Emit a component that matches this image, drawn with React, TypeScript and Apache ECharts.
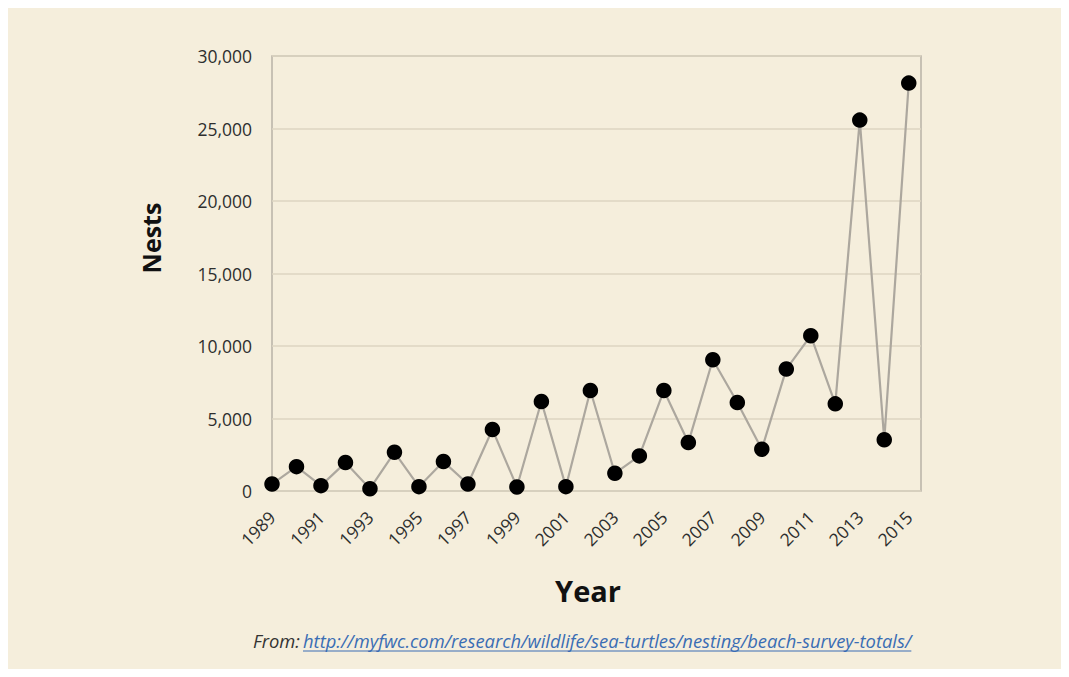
import React, { useEffect, useRef } from "react";
import * as echarts from "echarts";

const years = [1989, 1990, 1991, 1992, 1993, 1994, 1995, 1996, 1997, 1998, 1999, 2000, 2001, 2002, 2003, 2004, 2005, 2006, 2007, 2008, 2009, 2010, 2011, 2012, 2013, 2014, 2015];
const nests = [480, 1680, 370, 1960, 160, 2670, 300, 2030, 480, 4240, 280, 6170, 300, 6930, 1220, 2420, 6930, 3340, 9050, 6100, 2880, 8410, 10710, 6010, 25580, 3530, 28130];
const yTicks = [0, 5000, 10000, 15000, 20000, 25000, 30000];
const xAxisTitle = "Year";
const yAxisTitle = "Nests";
const sourcePrefix = "From:";
const sourceLink = "http://myfwc.com/research/wildlife/sea-turtles/nesting/beach-survey-totals/";

const W = 1053;
const H = 661;
const BG = "#f5eedc";
const FONT = "'Open Sans', 'Noto Sans', sans-serif";

function measure(text: string, font: string): number {
  const c = document.createElement("canvas").getContext("2d");
  if (!c) return text.length * 8;
  c.font = font;
  return c.measureText(text).width;
}

export default function App() {
  const ref = useRef<HTMLDivElement>(null);
  useEffect(() => {
    if (!ref.current) return;
    const chart = echarts.init(ref.current, undefined, { renderer: "svg" });

    const linkX = 295;
    const linkTarget = 609;
    const m16 = measure(sourceLink, `italic 16px ${FONT}`);
    const linkSize = Math.max(10, Math.min(22, (16 * linkTarget) / m16));
    const linkW = measure(sourceLink, `italic ${linkSize}px ${FONT}`);
    const baseY = 641;

    chart.setOption({
      animation: false,
      backgroundColor: BG,
      grid: {
        left: 264,
        top: 48,
        right: 140,
        bottom: 178,
        show: true,
        borderColor: "#b8b2a6",
        borderWidth: 1.5,
        backgroundColor: "transparent",
      },
      xAxis: {
        type: "value",
        min: years[0],
        max: years[years.length - 1] + 0.5,
        interval: 1,
        axisLine: { show: false },
        axisTick: { show: false },
        splitLine: { show: false },
        axisLabel: {
          rotate: 45,
          margin: 23,
          fontSize: 17.5,
          fontFamily: FONT,
          color: "#2e2e2e",
          formatter: (v: number) =>
            Number.isInteger(v) && years.includes(v) && (v - years[0]) % 2 === 0 ? String(v) : "",
        },
      },
      yAxis: {
        type: "value",
        min: yTicks[0],
        max: yTicks[yTicks.length - 1],
        interval: yTicks[1] - yTicks[0],
        axisLine: { show: false },
        axisTick: { show: false },
        splitLine: { show: true, lineStyle: { color: "#ddd5c2", width: 1.5 } },
        axisLabel: {
          margin: 20,
          fontSize: 17.5,
          fontFamily: FONT,
          color: "#2e2e2e",
          formatter: (v: number) => v.toLocaleString("en-US"),
        },
      },
      series: [
        {
          type: "line",
          data: years.map((y, i) => [y, nests[i]]),
          symbol: "circle",
          symbolSize: 15.5,
          itemStyle: { color: "#000000" },
          lineStyle: { color: "#aca79e", width: 2.2 },
          z: 3,
        },
      ],
      graphic: [
        {
          type: "text",
          x: 143,
          y: 230,
          rotation: Math.PI / 2,
          style: {
            text: yAxisTitle,
            fontSize: 25,
            fontWeight: "bold",
            fontFamily: FONT,
            fill: "#111111",
            align: "center",
            verticalAlign: "middle",
          },
        },
        {
          type: "text",
          x: 580,
          y: 582,
          style: {
            text: xAxisTitle,
            fontSize: 29,
            fontWeight: "bold",
            fontFamily: FONT,
            fill: "#111111",
            align: "center",
            verticalAlign: "middle",
          },
        },
        {
          type: "text",
          x: 245,
          y: baseY,
          style: {
            text: sourcePrefix,
            fontSize: linkSize,
            fontStyle: "italic",
            fontFamily: FONT,
            fill: "#333333",
            align: "left",
            verticalAlign: "bottom",
          },
        },
        {
          type: "text",
          x: linkX,
          y: baseY,
          style: {
            text: sourceLink,
            fontSize: linkSize,
            fontStyle: "italic",
            fontFamily: FONT,
            fill: "#3a6db4",
            align: "left",
            verticalAlign: "bottom",
          },
        },
        {
          type: "line",
          shape: { x1: linkX, y1: baseY + 2, x2: linkX + linkW, y2: baseY + 2 },
          style: { stroke: "#3a6db4", lineWidth: 1 },
        },
      ],
    });
    return () => chart.dispose();
  }, []);
  return <div ref={ref} style={{ width: W, height: H }} />;
}
